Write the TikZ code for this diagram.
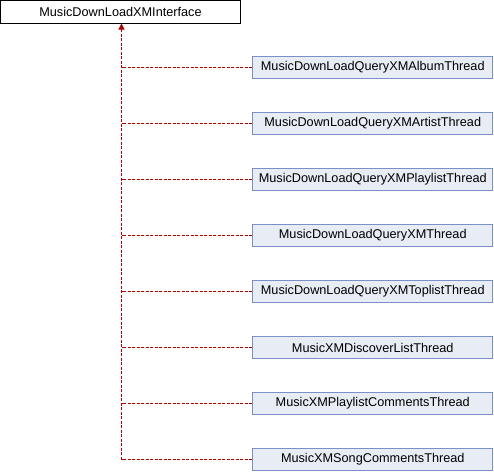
\documentclass[tikz,border=0pt]{standalone}
\usepackage{fontspec}
\setmainfont{Liberation Sans}
\usetikzlibrary{positioning, arrows.meta}
\definecolor{edgered}{RGB}{175, 0, 0}
\definecolor{boxfill}{RGB}{232, 236, 245}
\definecolor{boxline}{RGB}{120, 145, 200}

\begin{document}
\begin{tikzpicture}[
    x=1pt, y=-1pt,
    node distance=32.5pt,
    base/.style={rectangle, draw=black, fill=white, line width=1pt, minimum width=240pt, minimum height=22.5pt, inner sep=0pt, text centered, font=\fontsize{12.7}{15}\selectfont},
    derived/.style={base, draw=boxline, fill=boxfill},
    inherit/.style={edgered, line width=1pt, dash pattern=on 3pt off 1.5pt},
    arrow/.style={inherit, -{Triangle[width=6pt, length=6pt]}}
]
\useasboundingbox (0,0) rectangle (494,472);

% Base class
\node[base] (iface) at (120.5,11.75) {MusicDownLoadXMInterface};

% Derived classes
\node[derived] (album) at (372.75,67.5) {MusicDownLoadQueryXMAlbumThread};
\node[derived, below=of album] (artist) {MusicDownLoadQueryXMArtistThread};
\node[derived, below=of artist] (playlist) {MusicDownLoadQueryXMPlaylistThread};
\node[derived, below=of playlist] (query) {MusicDownLoadQueryXMThread};
\node[derived, below=of query] (toplist) {MusicDownLoadQueryXMToplistThread};
\node[derived, below=of toplist] (discover) {MusicXMDiscoverListThread};
\node[derived, below=of discover] (plcomments) {MusicXMPlaylistCommentsThread};
\node[derived, below=of plcomments] (songcomments) {MusicXMSongCommentsThread};

% Trunk end below the base class
\coordinate (trunk) at (121.5,23.5);

% Arrows
\draw[arrow] (songcomments.west) -| (trunk);
\draw[inherit] (album.west) -- (album.west -| trunk);
\draw[inherit] (artist.west) -- (artist.west -| trunk);
\draw[inherit] (playlist.west) -- (playlist.west -| trunk);
\draw[inherit] (query.west) -- (query.west -| trunk);
\draw[inherit] (toplist.west) -- (toplist.west -| trunk);
\draw[inherit] (discover.west) -- (discover.west -| trunk);
\draw[inherit] (plcomments.west) -- (plcomments.west -| trunk);

\end{tikzpicture}
\end{document}
